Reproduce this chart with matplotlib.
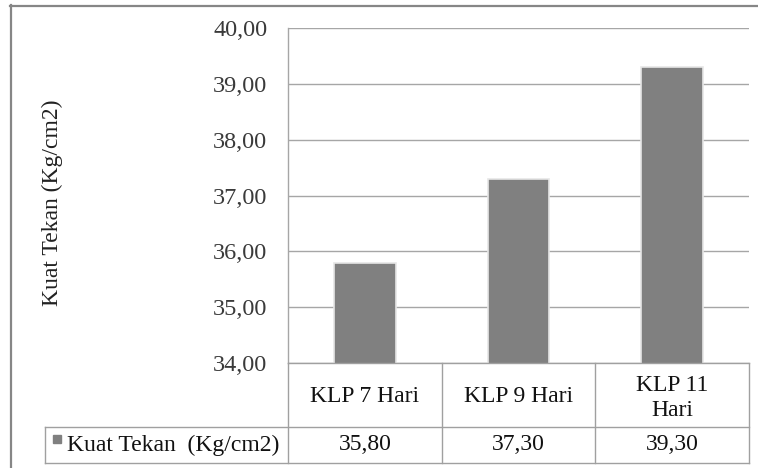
import matplotlib
matplotlib.use("Agg")
import matplotlib.pyplot as plt
import matplotlib.transforms as mtransforms
from matplotlib.lines import Line2D
from matplotlib.patches import Rectangle

# data
categories = ["KLP 7 Hari", "KLP 9 Hari", "KLP 11\nHari"]
values = [35.80, 37.30, 39.30]
series_name = "Kuat Tekan  (Kg/cm2)"
y_label = "Kuat Tekan (Kg/cm2)"
y_ticks = [34, 35, 36, 37, 38, 39, 40]

W, H = 758, 468
plt.rcParams["font.family"] = ["Liberation Serif", "DejaVu Serif"]
FS = 17

fig = plt.figure(figsize=(W / 100, H / 100), dpi=100)


def fx(x):
    return x / W


def fy(y):
    return 1 - y / H


# plot area in pixels
L, R, T, B = 288, 749, 28, 363
ax = fig.add_axes([fx(L), fy(B), fx(R) - fx(L), fy(T) - fy(B)])

xs = list(range(len(values)))
ax.bar(xs, values, width=0.4, color="#808080", edgecolor="#e6e6e6",
       linewidth=1.2, zorder=3)
ax.set_xlim(-0.5, len(values) - 0.5)
ax.set_ylim(34, 40)
ax.set_yticks(y_ticks)
ax.set_yticklabels([f"{v:.2f}".replace(".", ",") for v in y_ticks],
                   fontsize=17.5, color="#3a3a3a")
ax.tick_params(axis="y", length=0, pad=15)
ax.set_xticks([])
ax.yaxis.grid(True, color="#a6a6a6", linewidth=1.0, zorder=0)
for s in ["top", "right", "bottom"]:
    ax.spines[s].set_visible(False)
ax.spines["left"].set_color("#a6a6a6")
ax.spines["left"].set_linewidth(1.0)

fig.text(fx(52), fy(203), y_label, rotation=90, ha="center", va="center",
         fontsize=FS, color="#222222")

# data table under the chart
tr = mtransforms.blended_transform_factory(ax.transData, fig.transFigure)
grey = "#a0a0a0"
r1, r2 = 427, 463
lines = [
    ((fx(L), fx(R)), (fy(B), fy(B))),
    ((fx(45), fx(R)), (fy(r1), fy(r1))),
    ((fx(45), fx(R)), (fy(r2), fy(r2))),
    ((fx(45), fx(45)), (fy(r1), fy(r2))),
]
for xx, yy in lines:
    fig.add_artist(Line2D(xx, yy, color=grey, lw=1.0))
for i in range(len(values) + 1):
    xb = i - 0.5
    fig.add_artist(Line2D([xb, xb], [fy(B), fy(r2)], color=grey, lw=1.0,
                          transform=tr))

for i, (c, v) in enumerate(zip(categories, values)):
    yc = 398 if "\n" in c else 396
    fig.text(i, fy(yc), c, transform=tr, ha="center", va="center",
             fontsize=FS, color="#111111", linespacing=1.2)
    fig.text(i, fy(445), f"{v:.2f}".replace(".", ","), transform=tr,
             ha="center", va="center", fontsize=FS, color="#111111")

fig.add_artist(Rectangle((fx(53), fy(443)), fx(8), 8 / H, color="#808080",
                         transform=fig.transFigure))
fig.text(fx(67), fy(445), series_name, ha="left", va="center",
         fontsize=FS, color="#111111")

# outer chart border
fig.add_artist(Line2D([fx(10), 1], [fy(5.5), fy(5.5)], color="#868686", lw=1.6))
fig.add_artist(Line2D([fx(11), fx(11)], [fy(5), 0], color="#868686", lw=1.6))

fig.savefig("out.png", dpi=100)
